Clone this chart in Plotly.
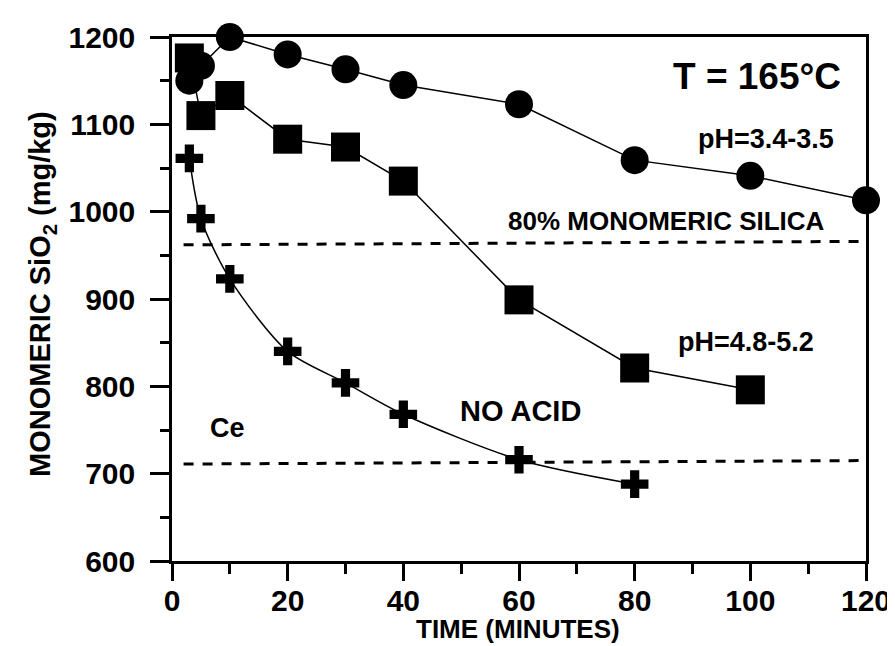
import plotly.graph_objects as go

# Data
t_ph34 = [3, 5, 10, 20, 30, 40, 60, 80, 100, 120]
v_ph34 = [1150, 1167, 1200, 1180, 1163, 1145, 1123, 1059, 1041, 1013]

t_ph48 = [3, 5, 10, 20, 30, 40, 60, 80, 100]
v_ph48 = [1176, 1110, 1133, 1083, 1074, 1035, 899, 821, 796]

t_noacid = [3, 5, 10, 20, 30, 40, 60, 80]
v_noacid = [1061, 992, 923, 840, 804, 768, 716, 688]

ref80_x = [2, 120]
ref80_y = [962, 966]
ce_x = [2, 120]
ce_y = [711, 715]

x_ticks = [0, 20, 40, 60, 80, 100, 120]
y_ticks = [600, 700, 800, 900, 1000, 1100, 1200]

FONT = "Arial, Liberation Sans, sans-serif"
BLACK = "#000000"

fig = go.Figure()

# dashed reference lines
for xs, ys in [(ref80_x, ref80_y), (ce_x, ce_y)]:
    fig.add_trace(go.Scatter(x=xs, y=ys, mode="lines",
                             line=dict(color=BLACK, width=3, dash="10px,9px"),
                             showlegend=False, hoverinfo="skip"))

fig.add_trace(go.Scatter(x=t_noacid, y=v_noacid, mode="lines+markers",
                         line=dict(color=BLACK, width=1.5, shape="spline", smoothing=0.8),
                         marker=dict(symbol="cross", size=23, color=BLACK),
                         cliponaxis=False, showlegend=False))
fig.add_trace(go.Scatter(x=t_ph48, y=v_ph48, mode="lines+markers",
                         line=dict(color=BLACK, width=1.5),
                         marker=dict(symbol="square", size=29, color=BLACK),
                         cliponaxis=False, showlegend=False))
fig.add_trace(go.Scatter(x=t_ph34, y=v_ph34, mode="lines+markers",
                         line=dict(color=BLACK, width=1.5),
                         marker=dict(symbol="circle", size=28, color=BLACK),
                         cliponaxis=False, showlegend=False))
# invisible trace to carry the overlay axis that draws the long major x ticks
fig.add_trace(go.Scatter(x=t_ph34, y=v_ph34, mode="none", xaxis="x2",
                         showlegend=False, hoverinfo="skip"))

axis_common = dict(
    showgrid=False, zeroline=False, showline=True, linecolor=BLACK, linewidth=2.5,
    mirror=True, ticks="outside", tickwidth=2.5, tickcolor=BLACK,
    tickfont=dict(family=FONT, size=30, color=BLACK, weight="bold"),
)

fig.update_layout(
    xaxis=dict(range=[0, 120], tickvals=x_ticks, ticktext=[str(v) for v in x_ticks],
               ticklen=11,
               minor=dict(dtick=10, ticks="outside", ticklen=10, tickwidth=2.5, tickcolor=BLACK),
               **axis_common),
    xaxis2=dict(range=[0, 120], overlaying="x", anchor="y", side="bottom",
                tickvals=x_ticks, ticks="outside", ticklen=19, tickwidth=2.5,
                tickcolor=BLACK, showticklabels=False, showline=False,
                showgrid=False, zeroline=False),
    yaxis=dict(range=[600, 1200], tickvals=y_ticks, ticktext=[str(v) for v in y_ticks],
               ticklen=19, ticklabelstandoff=9,
               minor=dict(dtick=50, ticks="outside", ticklen=9, tickwidth=2.5, tickcolor=BLACK),
               **axis_common),
)

def ann(text, x, y, size, xref="x", yref="y", angle=0):
    fig.add_annotation(text=text, x=x, y=y, xref=xref, yref=yref, showarrow=False,
                       textangle=angle, xanchor="center", yanchor="middle",
                       font=dict(family=FONT, size=size, color=BLACK, weight="bold"))

ann("T = 165°C", 101.1, 1155, 37)
ann("pH=3.4-3.5", 102.7, 1083, 27)
ann("80% MONOMERIC SILICA", 85.5, 989, 26)
ann("pH=4.8-5.2", 99.3, 851, 27)
ann("NO ACID", 60.3, 772, 29)
ann("Ce", 9.6, 752, 27)

# axis titles
ann("TIME (MINUTES)", 0.499, -0.130, 26, xref="paper", yref="paper")
ann("MONOMERIC SiO<sub>2</sub> (mg/kg)", -0.187, 0.51, 29, xref="paper", yref="paper", angle=-90)

fig.update_layout(
    width=895, height=646,
    margin=dict(l=164, r=32, t=24, b=93),
    paper_bgcolor="white", plot_bgcolor="white",
    showlegend=False,
)

fig.write_html("out.html")
